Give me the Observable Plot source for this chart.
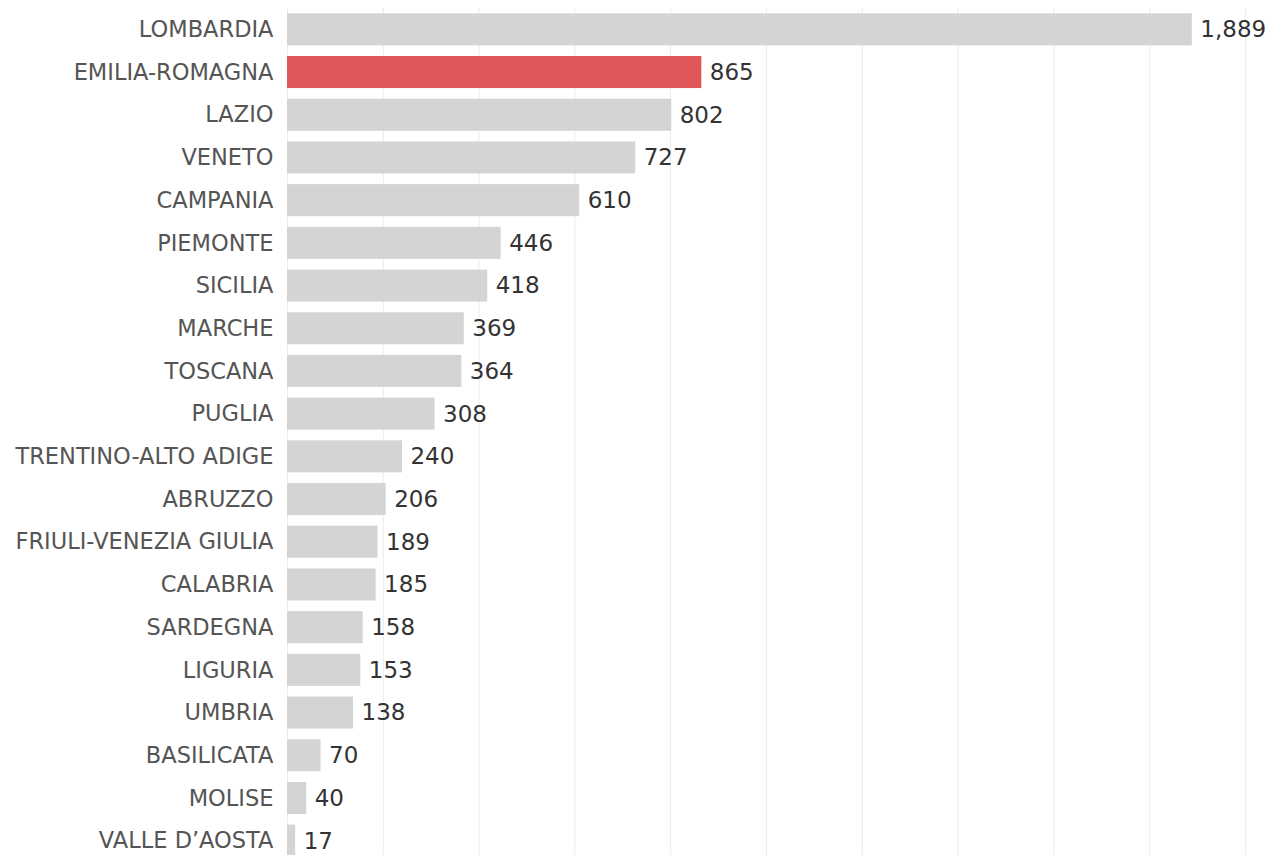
<!DOCTYPE html>
<html>
<head>
<meta charset="utf-8">
<script src="https://cdn.jsdelivr.net/npm/d3@7"></script>
<script src="https://cdn.jsdelivr.net/npm/@observablehq/plot@0.6"></script>
<style>
  html, body { margin: 0; padding: 0; background: #fff; overflow: hidden; }
</style>
</head>
<body>
<div id="chart"></div>
<script>
const regions = ["LOMBARDIA","EMILIA-ROMAGNA","LAZIO","VENETO","CAMPANIA","PIEMONTE","SICILIA","MARCHE","TOSCANA","PUGLIA","TRENTINO-ALTO ADIGE","ABRUZZO","FRIULI-VENEZIA GIULIA","CALABRIA","SARDEGNA","LIGURIA","UMBRIA","BASILICATA","MOLISE","VALLE D\u2019AOSTA"];
const values = [1889,865,802,727,610,446,418,369,364,308,240,206,189,185,158,153,138,70,40,17];
const highlighted = ["EMILIA-ROMAGNA"];
const gridTicks = [0,200,400,600,800,1000,1200,1400,1600,1800,2000];

const data = regions.map((r, i) => ({region: r, value: values[i]}));
const fmt = d3.format(",");

const chart = Plot.plot({
  width: 1272,
  height: 862,
  marginLeft: 287,
  marginRight: 27,
  marginTop: 8,
  marginBottom: 0,
  style: {fontFamily: "'DejaVu Sans', sans-serif", background: "#fff"},
  x: {domain: [0, 2000], axis: null},
  y: {domain: regions, paddingInner: 0.25, paddingOuter: 0.125, round: false, label: null},
  marks: [
    Plot.ruleX(gridTicks, {stroke: "#ececec", strokeWidth: 1}),
    Plot.barX(data, {y: "region", x: "value", fill: d => highlighted.includes(d.region) ? "#e15759" : "#d4d4d4"}),
    Plot.text(data, {y: "region", x: "value", text: d => fmt(d.value), textAnchor: "start", dx: 8, fontSize: 23, fill: "#333"}),
    Plot.axisY({tickSize: 0, tickPadding: 14, fontSize: 22.5, color: "#555", label: null})
  ]
});
document.getElementById("chart").appendChild(chart);
</script>
</body>
</html>
